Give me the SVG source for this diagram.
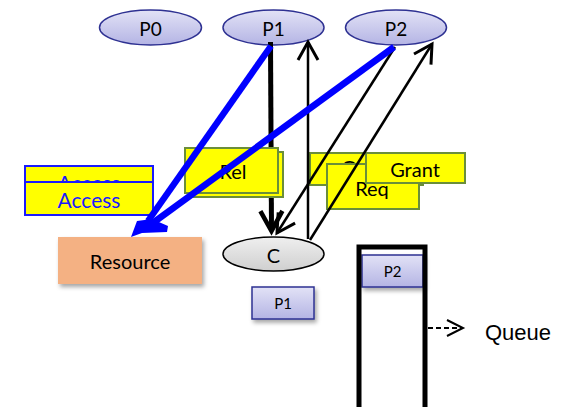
<svg xmlns="http://www.w3.org/2000/svg" width="578" height="407" viewBox="0 0 578 407">
  <style>
    .t { font-family: Lato, "Open Sans", sans-serif; fill: #000; text-anchor: middle; dominant-baseline: central; }
    .proc { fill: url(#lav); stroke: #2e3192; stroke-width: 1.5; }
    .msg { fill: #ffff00; stroke: #6b8e3a; stroke-width: 2; }
    .acc { fill: #ffff00; stroke: #1a1aff; stroke-width: 2; }
    .thin { stroke: #000; stroke-width: 2.5; fill: none; }
    .blue { stroke: #0000ff; stroke-width: 6.5; fill: none; stroke-linecap: butt; }
  </style>
  <defs>
    <linearGradient id="lav" x1="0" y1="0" x2="0" y2="1">
      <stop offset="0" stop-color="#e2e2f6"/>
      <stop offset="1" stop-color="#b4b4e4"/>
    </linearGradient>
    <linearGradient id="gray" x1="0" y1="0" x2="0" y2="1">
      <stop offset="0" stop-color="#efefef"/>
      <stop offset="1" stop-color="#cfcfcf"/>
    </linearGradient>
    <filter id="sh" x="-20%" y="-20%" width="140%" height="150%">
      <feDropShadow dx="2" dy="3" stdDeviation="2" flood-color="#000" flood-opacity="0.35"/>
    </filter>
    <marker id="vee" markerUnits="userSpaceOnUse" markerWidth="30" markerHeight="30" refX="20" refY="11" orient="auto" viewBox="0 0 30 22">
      <path d="M2,1 L20,11 L2,21" fill="none" stroke="#000" stroke-width="3"/>
    </marker>
    <marker id="veeBold" markerUnits="userSpaceOnUse" markerWidth="30" markerHeight="30" refX="22" refY="12" orient="auto" viewBox="0 0 30 24">
      <path d="M2,1 L22,12 L2,23" fill="none" stroke="#000" stroke-width="4.5"/>
    </marker>
  </defs>

  <!-- processes -->
  <g id="p0">
    <ellipse class="proc" cx="150.5" cy="27.5" rx="51" ry="17.5"/>
    <text class="t" x="150.5" y="28" font-size="19">P0</text>
  </g>
  <g id="p1">
    <ellipse class="proc" cx="273.5" cy="27.5" rx="50.5" ry="17.5"/>
    <text class="t" x="273.5" y="28" font-size="19">P1</text>
  </g>
  <g id="p2">
    <ellipse class="proc" cx="396" cy="27.5" rx="50.5" ry="17.5"/>
    <text class="t" x="396" y="28" font-size="19">P2</text>
  </g>

  <!-- coordinator -->
  <g id="coordinator">
    <ellipse cx="273.5" cy="254" rx="50.5" ry="17" fill="url(#gray)" stroke="#000" stroke-width="1.5"/>
    <text class="t" x="273.5" y="254.5" font-size="20">C</text>
  </g>

  <!-- shared resource -->
  <g id="resource">
    <rect x="58" y="237" width="144" height="47" fill="#f4b183" filter="url(#sh)"/>
    <text class="t" x="130" y="261" font-size="20">Resource</text>
  </g>

  <!-- holder of the resource -->
  <g id="holder">
    <rect x="252" y="287" width="62" height="32" fill="url(#lav)" stroke="#2e3192" stroke-width="1.5" filter="url(#sh)"/>
    <text class="t" x="283" y="303" font-size="15">P1</text>
  </g>

  <!-- waiting queue -->
  <g id="queue">
    <rect x="362" y="255" width="61" height="32" fill="url(#lav)" stroke="#2e3192" stroke-width="1.5" filter="url(#sh)"/>
    <text class="t" x="392.5" y="271" font-size="15">P2</text>
    <path d="M359,407 V247 H425 V407" fill="none" stroke="#000" stroke-width="5"/>
    <line x1="428" y1="328" x2="461" y2="328" stroke="#000" stroke-width="2" stroke-dasharray="5,3"/>
    <path d="M447,320 L463,328 L447,336" fill="none" stroke="#000" stroke-width="2"/>
    <text x="485" y="340" font-family="'Liberation Sans', Arial, sans-serif" font-size="22" fill="#000">Queue</text>
  </g>

  <g id="connectors">
    <!-- release: P1 to C -->
    <line x1="270.5" y1="42" x2="271.5" y2="231" stroke="#000" stroke-width="5" marker-end="url(#veeBold)"/>
  </g>

  <!-- messages -->
  <g id="rel-msg">
    <rect class="msg" x="189" y="152" width="94" height="45"/>
    <rect class="msg" x="185" y="148" width="93" height="45"/>
    <text class="t" x="233" y="171" font-size="20">Rel</text>
  </g>
  <g id="access-msg">
    <rect class="acc" x="25" y="166" width="128" height="33"/>
    <text class="t" x="89" y="182" font-size="21" style="fill:#1a1aff">Access</text>
    <rect class="acc" x="25" y="182" width="128" height="33"/>
    <text class="t" x="89" y="199" font-size="21" style="fill:#1a1aff">Access</text>
  </g>
  <g id="grant-msg-back">
    <rect class="msg" x="310" y="153" width="113" height="32"/>
    <text class="t" x="366" y="167" font-size="20">Grant</text>
  </g>
  <g id="req-msg">
    <rect class="msg" x="327" y="164" width="92" height="45"/>
    <text class="t" x="372" y="188" font-size="20">Req</text>
  </g>
  <g id="grant-msg">
    <rect class="msg" x="366" y="153" width="99" height="30"/>
    <text class="t" x="415" y="168.5" font-size="20">Grant</text>
  </g>

  <g id="connectors-top">
    <!-- request: P2 to C -->
    <line class="thin" x1="395" y1="47" x2="277" y2="233" marker-end="url(#vee)"/>
    <!-- grant: C to P1 -->
    <line class="thin" x1="308" y1="239" x2="308" y2="42" marker-end="url(#vee)"/>
    <!-- grant: C to P2 -->
    <line class="thin" x1="310" y1="240" x2="432" y2="44" marker-end="url(#vee)"/>
    <!-- access: P1 and P2 to resource -->
    <line class="blue" x1="271" y1="46" x2="148" y2="221"/>
    <line class="blue" x1="394" y1="47" x2="150" y2="225"/>
    <path d="M131,237 L137,221 L152,219 L168,226 L167,232 L142,233 Z" fill="#0000ff"/>
  </g>
</svg>
